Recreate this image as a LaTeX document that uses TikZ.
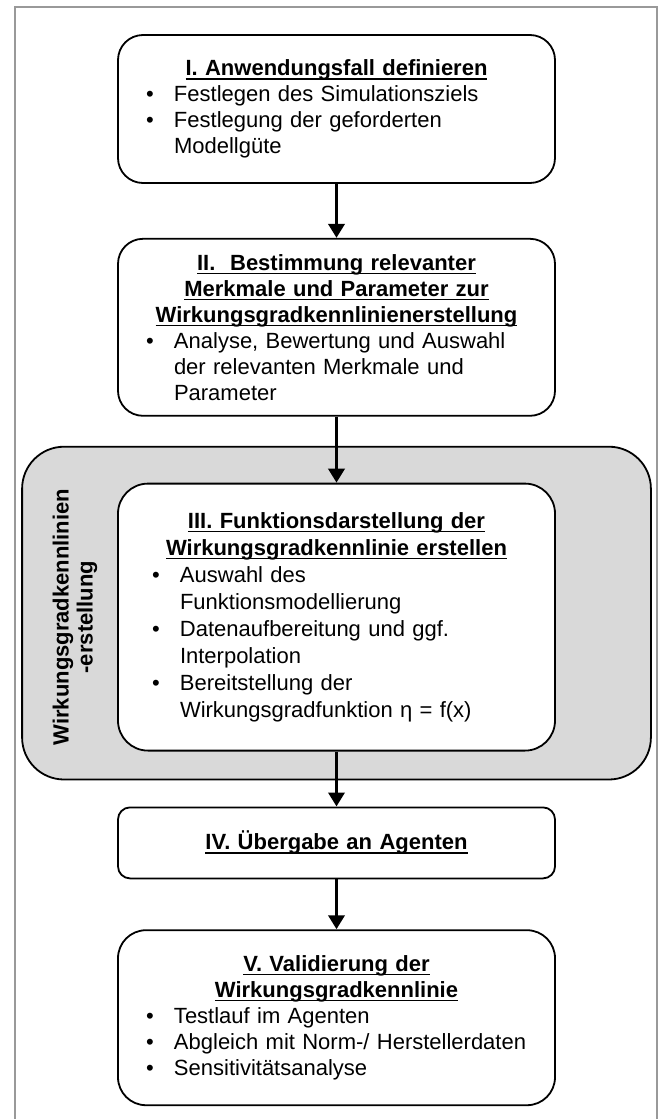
\documentclass[tikz,border=0pt]{standalone}
\usepackage{fontspec}
\setmainfont{Liberation Sans}
\usetikzlibrary{arrows.meta, positioning, backgrounds}

% underlined heading line, bullet item
\newcommand{\undl}[1]{\leavevmode\setbox0\hbox{#1}\rlap{\rule[-4pt]{\wd0}{1.6pt}}\box0}
\newcommand{\bhead}[1]{{\centering\bfseries #1\par}}
\newcommand{\bitem}[1]{\par\hangindent=28pt\hangafter=1\noindent\makebox[28pt][l]{\textbullet}{\let\\\newline#1}\par}

\begin{document}
\begin{tikzpicture}[x=1pt, y=1pt,
    stepbox/.style={draw, line width=1.8pt, rounded corners=25pt, fill=white,
        minimum width=437pt, text width=381pt, inner xsep=28pt, inner ysep=4pt,
        align=left, font=\fontsize{22}{26}\selectfont},
    flow/.style={line width=3.5pt, -{Triangle[width=16pt,length=14pt]}},
    groupbox/.style={draw, line width=1.8pt, rounded corners=42pt, fill=black!15},
    grouplabel/.style={rotate=90, align=center, font=\fontsize{22}{24}\selectfont\bfseries},]

\useasboundingbox (0,0) rectangle (662,-1119);

% thin outer frame (open at the bottom)
\draw[black!40, line width=1.2pt] (15,-1130) -- (15,-7) -- (657,-7) -- (657,-1130);

% I. use case
\node[stepbox, minimum height=148pt] (anwendung) at (336.5,-109) {%
  \bhead{\undl{I. Anwendungsfall definieren}}
  \bitem{Festlegen des Simulationsziels}
  \bitem{Festlegung der geforderten\\Modellgüte}};

% II. features and parameters
\node[stepbox, minimum height=177pt, below=54pt of anwendung] (merkmale) {%
  \bhead{\undl{II.\ \ Bestimmung relevanter}\\\undl{Merkmale und Parameter zur}\\\undl{Wirkungsgradkennlinienerstellung}}
  \bitem{Analyse, Bewertung und Auswahl\\der relevanten Merkmale und\\Parameter}};

% III. function representation
\node[stepbox, minimum height=267pt, rounded corners=30pt, text width=369pt, inner xsep=34pt,
    font=\fontsize{22}{27}\selectfont, below=66pt of merkmale] (funktion) {%
  \bhead{\undl{III. Funktionsdarstellung der}\\\undl{Wirkungsgradkennlinie erstellen}}
  \bitem{Auswahl des\\Funktionsmodellierung}
  \bitem{Datenaufbereitung und ggf.\\Interpolation}
  \bitem{Bereitstellung der\\Wirkungsgradfunktion η = f(x)}};

% IV. hand-over
\node[stepbox, minimum height=71pt, rounded corners=12pt, below=55pt of funktion] (uebergabe) {%
  \bhead{\undl{IV. Übergabe an Agenten}}};

% V. validation
\node[stepbox, minimum height=175pt, rounded corners=28pt, below=50pt of uebergabe] (validierung) {%
  \bhead{\undl{V. Validierung der}\\\undl{Wirkungsgradkennlinie}}
  \bitem{Testlauf im Agenten}
  \bitem{Abgleich mit Norm-/ Herstellerdaten}
  \bitem{Sensitivitätsanalyse}};

% grey group round step III
\begin{scope}[on background layer]
  \draw[groupbox] ([shift={(-95,36)}]funktion.north west) rectangle ([shift={(95,-28)}]funktion.south east);
\end{scope}
\node[grouplabel] (gruppe) at ([xshift=-42pt]funktion.west) {Wirkungsgradkennlinien\\-erstellung};

% flow arrows
\draw[flow] (anwendung) -- (merkmale);
\draw[flow] (merkmale) -- (funktion);
\draw[flow] (funktion) -- (uebergabe);
\draw[flow] (uebergabe) -- (validierung);

\end{tikzpicture}
\end{document}
